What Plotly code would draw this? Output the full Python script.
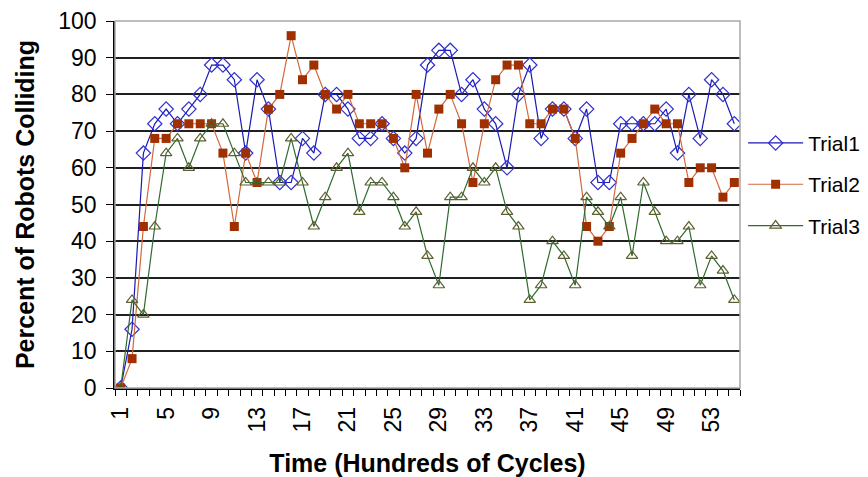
import plotly.graph_objects as go

time = list(range(1, 56))

trial1 = [0, 16, 64, 72, 76, 72, 76, 80, 88, 88,
          84, 64, 84, 76, 56, 56, 68, 64, 80, 80,
          76, 68, 68, 72, 68, 64, 68, 88, 92, 92,
          80, 84, 76, 72, 60, 80, 88, 68, 76, 76,
          68, 76, 56, 56, 72, 72, 72, 72, 76, 64,
          80, 68, 84, 80, 72]
trial2 = [0, 8, 44, 68, 68, 72, 72, 72, 72, 64,
          44, 64, 56, 76, 80, 96, 84, 88, 80, 76,
          80, 72, 72, 72, 68, 60, 80, 64, 76, 80,
          72, 56, 72, 84, 88, 88, 72, 72, 76, 76,
          68, 44, 40, 44, 64, 68, 72, 76, 72, 72,
          56, 60, 60, 52, 56]
trial3 = [0, 24, 20, 44, 64, 68, 60, 68, 72, 72,
          64, 56, 56, 56, 56, 68, 56, 44, 52, 60,
          64, 48, 56, 56, 52, 44, 48, 36, 28, 52,
          52, 60, 56, 60, 48, 44, 24, 28, 40, 36,
          28, 52, 48, 44, 52, 36, 56, 48, 40, 40,
          44, 28, 36, 32, 24]

x_tick_labels = [1, 5, 9, 13, 17, 21, 25, 29, 33, 37, 41, 45, 49, 53]
y_ticks = [0, 10, 20, 30, 40, 50, 60, 70, 80, 90, 100]

FONT = "Arial, 'Liberation Sans', sans-serif"

fig = go.Figure()
fig.add_trace(go.Scatter(
    x=time, y=trial1, name="Trial1", mode="lines+markers", legendgroup="a",
    line=dict(color="#1a1ab4", width=1.2),
    marker=dict(symbol="diamond-open", size=11, color="#3030d0", line=dict(width=1.2)),
))
fig.add_trace(go.Scatter(
    x=time, y=trial2, name="Trial2", mode="lines+markers", legendgroup="b",
    line=dict(color="#d2693c", width=1.2),
    marker=dict(symbol="square", size=9, color="#a03000"),
))
fig.add_trace(go.Scatter(
    x=time, y=trial3, name="Trial3", mode="lines+markers", legendgroup="c",
    line=dict(color="#2f6a2f", width=1.2),
    marker=dict(symbol="triangle-up-open", size=10, color="#5f5f30", line=dict(width=1.2)),
))

fig.update_layout(
    width=868, height=477,
    margin=dict(l=115, r=128, t=21, b=89, autoexpand=False),
    paper_bgcolor="white", plot_bgcolor="white",
    font=dict(family=FONT, color="black"),
    legend=dict(
        x=1.005, y=0.555, xanchor="left", yanchor="middle",
        font=dict(size=21, family=FONT), tracegroupgap=11,
        itemwidth=55,
        bgcolor="rgba(0,0,0,0)",
    ),
    shapes=[
        dict(type="rect", xref="x domain", yref="y domain", x0=0, x1=1, y0=0, y1=1,
             line=dict(color="#a8a8a8", width=1.5), layer="above"),
    ],
)

fig.update_xaxes(
    range=[0.5, 55.5], tickmode="array", tickvals=x_tick_labels,
    ticktext=[str(v) for v in x_tick_labels], tickangle=-90,
    ticks="", showgrid=False, zeroline=False,
    showline=True, linecolor="black", linewidth=1.5,
    tickfont=dict(size=23, family=FONT),
    ticklabelstandoff=8,
    minor=dict(tickmode="linear", tick0=0.5, dtick=1, ticks="outside",
               ticklen=6, tickcolor="black", tickwidth=1, showgrid=False),
    title=dict(text="<b>Time (Hundreds of Cycles)</b>", font=dict(size=25, family=FONT),
               standoff=28),
    automargin=False,
)
fig.update_yaxes(
    range=[0, 100], tickmode="array", tickvals=y_ticks,
    ticks="outside", ticklen=7, tickcolor="black", tickwidth=1.3,
    showgrid=True, gridcolor="#202020", gridwidth=1.5, zeroline=False,
    showline=True, linecolor="black", linewidth=1.5,
    tickfont=dict(size=23, family=FONT),
    ticklabelstandoff=5,
    title=dict(text="<b>Percent of Robots Colliding</b>", font=dict(size=25, family=FONT),
               standoff=17),
    automargin=False,
)

fig.write_html("out.html")
